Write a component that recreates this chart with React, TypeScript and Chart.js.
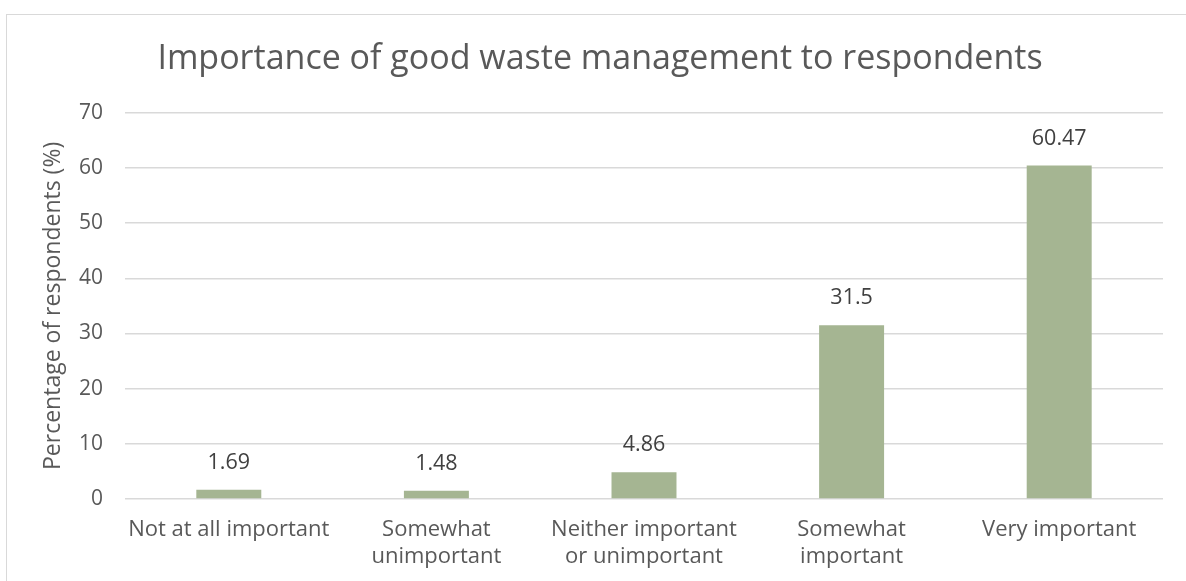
import React, { useEffect, useRef } from "react";
import { Chart, registerables } from "chart.js";

Chart.register(...registerables);

const TITLE = "Importance of good waste management to respondents";
const Y_TITLE = "Percentage of respondents (%)";
const categories: (string | string[])[] = [
  "Not at all important",
  ["Somewhat", "unimportant"],
  ["Neither important", "or unimportant"],
  ["Somewhat", "important"],
  "Very important",
];
const values = [1.69, 1.48, 4.86, 31.5, 60.47];
const valueLabels = ["1.69", "1.48", "4.86", "31.5", "60.47"];
const yTicks = [0, 10, 20, 30, 40, 50, 60, 70];

const FONT = "'Open Sans', 'Liberation Sans', sans-serif";
const TEXT = "#595959";
const BAR = "#A5B592";
const GRID = "#D9D9D9";

const valueLabelPlugin = {
  id: "valueLabels",
  afterDatasetsDraw(chart: any) {
    const { ctx } = chart;
    const meta = chart.getDatasetMeta(0);
    ctx.save();
    ctx.font = `21.5px ${FONT}`;
    ctx.fillStyle = "#404040";
    ctx.textAlign = "center";
    ctx.textBaseline = "middle";
    meta.data.forEach((bar: any, i: number) => {
      ctx.fillText(valueLabels[i], bar.x, bar.y - 27);
    });
    ctx.restore();
  },
};

export default function App() {
  const ref = useRef<HTMLCanvasElement>(null);
  useEffect(() => {
    if (!ref.current) return;
    const chart = new Chart(ref.current, {
      type: "bar",
      data: {
        labels: categories,
        datasets: [
          {
            data: values,
            backgroundColor: BAR,
            barPercentage: 0.313,
            categoryPercentage: 1,
          },
        ],
      },
      options: {
        responsive: false,
        animation: false,
        layout: { padding: { left: 37, right: 23, top: 0, bottom: 0 } },
        plugins: {
          legend: { display: false },
          tooltip: { enabled: false },
          title: {
            display: true,
            text: TITLE,
            color: TEXT,
            font: { family: FONT, size: 34, weight: "normal" },
            padding: { top: 39, bottom: 33 },
          },
        },
        scales: {
          x: {
            grid: { display: false, drawTicks: false },
            border: { display: false },
            ticks: {
              color: TEXT,
              font: { family: FONT, size: 22, lineHeight: 1.23 },
              padding: 17.5,
              maxRotation: 0,
              autoSkip: false,
            },
            afterFit: (s: any) => {
              s.height = 82;
            },
          },
          y: {
            min: 0,
            max: 70,
            afterBuildTicks: (s: any) => {
              s.ticks = yTicks.map((v) => ({ value: v }));
            },
            grid: { color: GRID, lineWidth: 1.5, drawTicks: false },
            border: { display: false },
            ticks: {
              color: TEXT,
              font: { family: FONT, size: 21 },
              padding: 22,
            },
            title: {
              display: true,
              text: Y_TITLE,
              color: TEXT,
              font: { family: FONT, size: 23 },
              padding: { top: 2.5, bottom: 0 },
            },
            afterFit: (s: any) => {
              s.width = 88;
            },
          },
        },
      },
      plugins: [valueLabelPlugin],
    });
    return () => chart.destroy();
  }, []);

  return (
    <div style={{ position: "absolute", left: 0, top: 0, width: 1186, height: 581, overflow: "hidden", background: "#fff" }}>
      <div style={{ position: "absolute", left: 6, top: 14, width: 1300, height: 700, border: `1.5px solid ${GRID}`, boxSizing: "border-box" }} />
      <canvas ref={ref} width={1186} height={581} style={{ position: "absolute", left: 0, top: 0 }} />
    </div>
  );
}
